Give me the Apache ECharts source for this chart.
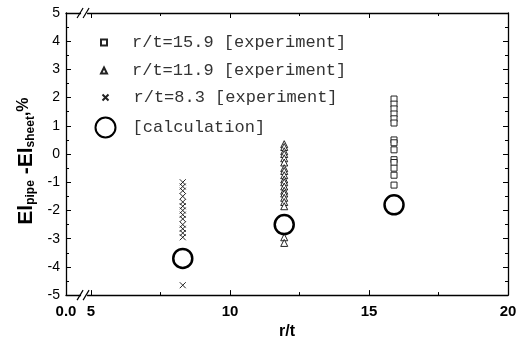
<!DOCTYPE html>
<html>
<head>
<meta charset="utf-8">
<script src="https://cdn.jsdelivr.net/npm/echarts@6/dist/echarts.min.js"></script>
<style>
  html, body { margin: 0; padding: 0; background: #fff; }
  #chart { width: 527px; height: 345px; }
</style>
</head>
<body>
<div id="chart"></div>
<script>
// values
const xTickValues = [5, 10, 15, 20];
const xMinorValues = [7.5, 12.5, 17.5];
const xLabelValues = [4.1, 5, 10, 15, 20];
const xLabelText = ['0.0', '5', '10', '15', '20'];

const rt159X = 15.9;
const rt159Y = [1.95, 1.77, 1.6, 1.42, 1.25, 1.1, 0.5, 0.4, 0.15, -0.2, -0.3, -0.5, -0.75, -1.1];
const rt119X = 11.95;
const rt119Y = [0.35, 0.25, 0.1, 0.0, -0.15, -0.3, -0.5, -0.6, -0.75, -0.9, -1.0, -1.15, -1.3, -1.4, -1.55, -1.7, -1.85, -2.95, -3.15];
const rt83X = 8.3;
const rt83Y = [-1.0, -1.15, -1.3, -1.5, -1.7, -1.85, -2.0, -2.15, -2.3, -2.5, -2.65, -2.8, -2.95, -4.65];
const calcX = [8.3, 11.95, 15.9];
const calcY = [-3.7, -2.5, -1.8];

const names = ['r/t=15.9 [experiment]', 'r/t=11.9 [experiment]', 'r/t=8.3 [experiment]', '[calculation]'];

const chart = echarts.init(document.getElementById('chart'));

// one legend per row so each icon can have its own size
const legendRow = (name, top, size, pad) => ({
    data: [name],
    left: 98 - size / 2,
    top: top,
    orient: 'vertical',
    itemWidth: size,
    itemHeight: size,
    selectedMode: false,
    textStyle: { fontFamily: 'Liberation Mono', fontSize: 17, color: '#333', padding: [0, 0, 0, pad] }
});

const baseX = {
    type: 'value', min: 4.1, max: 20, gridIndex: 0,
    splitLine: { show: false },
    axisLine: { onZero: false, lineStyle: { color: '#000', width: 1.3 } }
};

const option = {
    animation: false,
    grid: { left: 66, right: 19, top: 13, bottom: 48 },
    legend: [
        legendRow(names[0], 29, 6, 20),
        legendRow(names[1], 57, 6, 20),
        legendRow(names[2], 84, 6, 20),
        legendRow(names[3], 110, 20, 12)
    ],
    xAxis: [
        Object.assign({}, baseX, {
            position: 'bottom',
            name: 'r/t', nameLocation: 'middle', nameGap: 26,
            nameTextStyle: { fontFamily: 'Liberation Sans', fontWeight: 'bold', fontSize: 16, color: '#000' },
            axisTick: { inside: true, length: 5, customValues: xTickValues, lineStyle: { color: '#000' } },
            axisLabel: {
                customValues: xLabelValues, margin: 9,
                fontFamily: 'Liberation Sans', fontWeight: 'bold', fontSize: 15, color: '#000',
                formatter: v => xLabelText[xLabelValues.indexOf(v)] ?? ''
            }
        }),
        Object.assign({}, baseX, {
            position: 'bottom',
            axisLine: { show: false, onZero: false },
            axisTick: { inside: true, length: 3, customValues: xMinorValues, lineStyle: { color: '#000' } },
            axisLabel: { show: false }
        }),
        Object.assign({}, baseX, {
            position: 'top',
            axisTick: { inside: true, length: 5, customValues: xTickValues, lineStyle: { color: '#000' } },
            axisLabel: { show: false }
        }),
        Object.assign({}, baseX, {
            position: 'top',
            axisLine: { show: false, onZero: false },
            axisTick: { inside: true, length: 3, customValues: xMinorValues, lineStyle: { color: '#000' } },
            axisLabel: { show: false }
        })
    ],
    yAxis: [
        {
            type: 'value', min: -5, max: 5, interval: 1, position: 'left',
            splitLine: { show: false },
            axisLine: { onZero: false, lineStyle: { color: '#000', width: 1.3 } },
            axisTick: { inside: true, length: 5, lineStyle: { color: '#000' } },
            minorTick: { show: true, splitNumber: 2, length: 3, lineStyle: { color: '#000' } },
            axisLabel: { fontFamily: 'Liberation Sans', fontSize: 14, color: '#000', margin: 6 },
            name: '{a|El}{b|pipe}{a| -El}{b|sheet}{c|,%}',
            nameLocation: 'middle', nameRotate: 90, nameGap: 16,
            nameTextStyle: {
                rich: {
                    a: { fontFamily: 'Liberation Sans', fontWeight: 'bold', fontSize: 21, color: '#000', lineHeight: 21, verticalAlign: 'top' },
                    b: { fontFamily: 'Liberation Sans', fontWeight: 'bold', fontSize: 12, color: '#000', lineHeight: 12, padding: [13, 0, 0, 0], verticalAlign: 'bottom' },
                    c: { fontFamily: 'Liberation Sans', fontWeight: 'bold', fontSize: 16, color: '#000', lineHeight: 16, padding: [0, 14, 0, 0], verticalAlign: 'top' }
                }
            }
        },
        {
            type: 'value', min: -5, max: 5, interval: 1, position: 'right',
            splitLine: { show: false },
            axisLine: { onZero: false, lineStyle: { color: '#000', width: 1.3 } },
            axisTick: { inside: true, length: 5, lineStyle: { color: '#000' } },
            minorTick: { show: true, splitNumber: 2, length: 3, lineStyle: { color: '#000' } },
            axisLabel: { show: false }
        }
    ],
    series: [
        {
            name: names[0], type: 'scatter', symbol: 'rect', symbolSize: 6,
            itemStyle: { color: '#fff', borderColor: '#222', borderWidth: 1, opacity: 1 },
            data: rt159Y.map(v => [rt159X, v]), z: 3
        },
        {
            name: names[1], type: 'scatter', symbol: 'triangle', symbolSize: 7,
            itemStyle: { color: '#fff', borderColor: '#222', borderWidth: 1, opacity: 1 },
            data: rt119Y.map(v => [rt119X, v]), z: 3
        },
        {
            name: names[2], type: 'scatter', symbol: 'path://M0,0L10,10M10,0L0,10', symbolSize: 6,
            itemStyle: { color: 'none', borderColor: '#222', borderWidth: 1, opacity: 1 },
            data: rt83Y.map(v => [rt83X, v]), z: 3
        },
        {
            name: names[3], type: 'scatter', symbol: 'circle', symbolSize: 19,
            itemStyle: { color: 'none', borderColor: '#000', borderWidth: 2.5, opacity: 1 },
            data: calcX.map((x, i) => [x, calcY[i]]), z: 4
        }
    ]
};

chart.setOption(option);

// axis break marks "//" on bottom and top axes
const breakMarks = () => {
    const px = chart.convertToPixel({ xAxisIndex: 0 }, 4.75);
    const yb = chart.convertToPixel({ yAxisIndex: 0 }, -5);
    const yt = chart.convertToPixel({ yAxisIndex: 0 }, 5);
    const els = [];
    [yb, yt].forEach(y => {
        els.push({ type: 'rect', shape: { x: px - 3, y: y - 2, width: 6, height: 4 }, style: { fill: '#fff' }, z: 100 });
        els.push({ type: 'line', shape: { x1: px - 7, y1: y + 5, x2: px - 1, y2: y - 5 }, style: { stroke: '#000', lineWidth: 1.2 }, z: 101 });
        els.push({ type: 'line', shape: { x1: px - 1, y1: y + 5, x2: px + 5, y2: y - 5 }, style: { stroke: '#000', lineWidth: 1.2 }, z: 101 });
    });
    chart.setOption({ graphic: els });
};
breakMarks();
</script>
</body>
</html>
